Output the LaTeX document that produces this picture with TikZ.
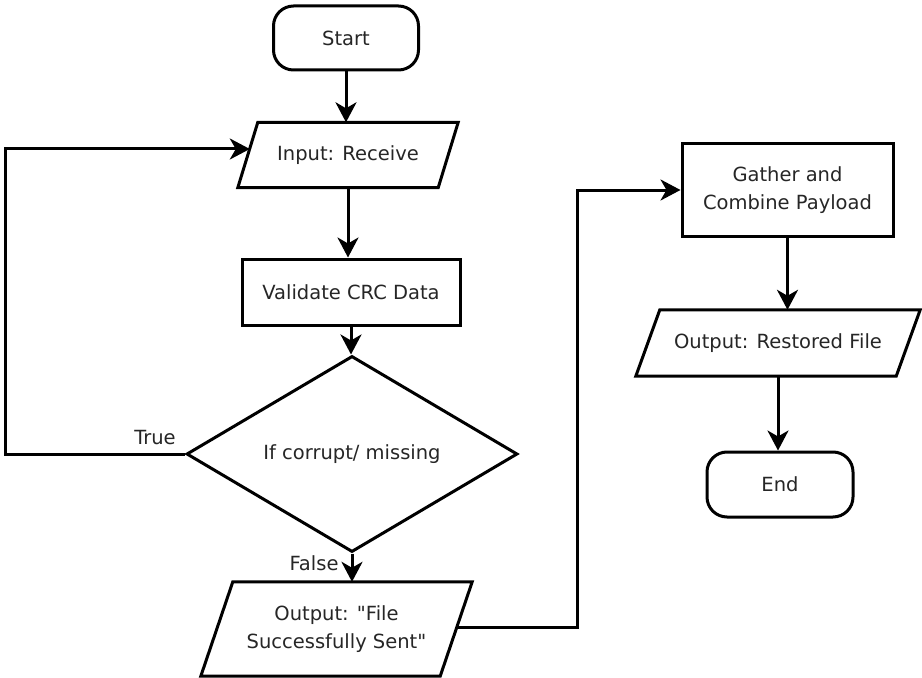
\documentclass[tikz,border=0pt]{standalone}
\usepackage{fontspec}
% a family without TeX ligature mapping, so " stays a straight quote
\newfontfamily\flowfont{DejaVu Sans}
\usetikzlibrary{arrows.meta,calc,shapes.geometric}

\tikzset{
  lbl/.style={font=\flowfont\fontsize{19.5bp}{27.5bp}\selectfont, text=black!85, align=center, inner sep=0pt},
  shapeline/.style={draw=black, line width=3bp, line join=miter},
  termbox/.style={lbl, shapeline, rectangle, rounded corners=20bp},
  procbox/.style={lbl, shapeline, rectangle},
  iobox/.style={lbl, rectangle},
  decbox/.style={lbl, shapeline, diamond},
  flow/.style={draw=black, line width=3bp, -{Stealth[length=20bp, width=21bp, inset=6bp]}},
  tag/.style={font=\flowfont\fontsize{19.5bp}{23bp}\selectfont, text=black!85, inner sep=0pt}
}

\begin{document}
\begin{tikzpicture}[x=1bp, y=-1bp]
  \useasboundingbox (0,0) rectangle (922,678);
  \fill[white] (0,0) rectangle (922,678);

  % left column
  \node[termbox, minimum width=145bp, minimum height=64bp] (start) at (346,38) {Start};
  \node[iobox, minimum width=220bp, minimum height=65bp] (in) at (348,155) {Input: Receive};
  \node[procbox, minimum width=218bp, minimum height=66bp] (val) at (351,292) {Validate CRC Data};
  \node[decbox, minimum width=331bp, minimum height=148bp] (dec) at (352,454) {If corrupt/ missing};
  \node[iobox, minimum width=271bp, minimum height=94bp] (outf) at (336.5,629) {Output: "File\\Successfully Sent"};

  % right column
  \node[procbox, minimum width=211bp, minimum height=92bp] (gath) at (787.5,190) {Gather and\\Combine Payload};
  \node[iobox, minimum width=284bp, minimum height=66bp] (outr) at (778,343) {Output: Restored File};
  \node[termbox, minimum width=146bp, minimum height=65bp] (end) at (780,484.5) {End};

  % parallelogram outlines of the input/output boxes
  \draw[shapeline] ($(in.north west)+(20,0)$) -- (in.north east) -- ($(in.south east)+(-20,0)$) -- (in.south west) -- cycle;
  \draw[shapeline] ($(outf.north west)+(32,0)$) -- (outf.north east) -- ($(outf.south east)+(-32,0)$) -- (outf.south west) -- cycle;
  \draw[shapeline] ($(outr.north west)+(24,0)$) -- (outr.north east) -- ($(outr.south east)+(-24,0)$) -- (outr.south west) -- cycle;

  % points on the slanted sides where connectors meet them
  \coordinate (inL) at ($(in.west)+(12,-6)$);
  \coordinate (outfR) at ($(outf.east)+(-16,-2)$);
  \coordinate (loop) at ($(dec.west)+(-179,0)$);
  \coordinate (jump) at ($(outfR)+(121,0)$);

  % connectors
  \draw[flow] (start.south) -- (start.south |- in.north);
  \draw[flow] (in.south) -- (in.south |- val.north);
  \draw[flow] (val.south) -- (val.south |- dec.north);
  \draw[flow] (dec.south) -- (dec.south |- outf.north);
  \draw[flow] (dec.west) -- (loop) |- (inL);
  \draw[flow] (outfR) -- (jump) |- (gath.west);
  \draw[flow] (gath.south) -- (gath.south |- outr.north);
  \draw[flow] (outr.south) -- (outr.south |- end.north);

  % branch labels
  \node[tag] (ltrue) at (155,438) {True};
  \node[tag] (lfalse) at (314,563) {False};
\end{tikzpicture}
\end{document}
